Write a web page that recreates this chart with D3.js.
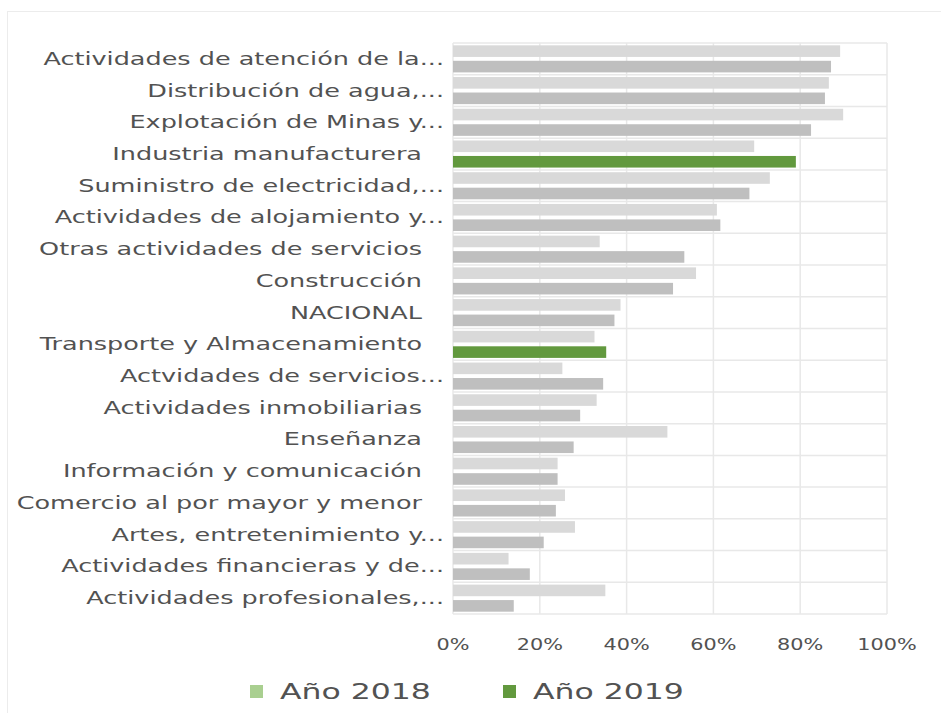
<!DOCTYPE html>
<html>
<head>
<meta charset="utf-8">
<script src="https://cdn.jsdelivr.net/npm/d3@7"></script>
<style>
  body { margin: 0; background: #fff; }
  text { font-family: "DejaVu Sans", Verdana, sans-serif; fill: #525252; }
</style>
</head>
<body>
<svg id="chart"></svg>
<script>
// categories, top to bottom
const categories = [
  "Actividades de atención de la...",
  "Distribución de agua,...",
  "Explotación de Minas y...",
  "Industria manufacturera",
  "Suministro de electricidad,...",
  "Actividades de alojamiento y...",
  "Otras actividades de servicios",
  "Construcción",
  "NACIONAL",
  "Transporte y Almacenamiento",
  "Actvidades de servicios...",
  "Actividades inmobiliarias",
  "Enseñanza",
  "Información y comunicación",
  "Comercio al por mayor y menor",
  "Artes, entretenimiento y...",
  "Actividades financieras y de...",
  "Actividades profesionales,..."
];
const values2018 = [0.892, 0.866, 0.899, 0.694, 0.730, 0.608, 0.338, 0.560, 0.386, 0.326, 0.252, 0.331, 0.494, 0.241, 0.258, 0.281, 0.128, 0.351];
const values2019 = [0.871, 0.857, 0.825, 0.790, 0.683, 0.616, 0.533, 0.507, 0.372, 0.353, 0.346, 0.293, 0.278, 0.241, 0.237, 0.209, 0.177, 0.140];
const highlighted = ["Industria manufacturera", "Transporte y Almacenamiento"];
const seriesNames = ["Año 2018", "Año 2019"];
const xTicks = [0, 0.2, 0.4, 0.6, 0.8, 1];

const width = 941, height = 713;
const margin = { top: 43, right: 54, bottom: 99, left: 453 };

const svg = d3.select("#chart").attr("width", width).attr("height", height);

// outer chart frame
svg.append("rect")
  .attr("x", 7.5).attr("y", 11.5)
  .attr("width", width).attr("height", height)
  .attr("fill", "none").attr("stroke", "#ececec");

const x = d3.scaleLinear().domain([0, 1]).range([margin.left, width - margin.right]);
const y = d3.scaleBand().domain(categories).range([margin.top, height - margin.bottom]).padding(0);
const ySub = d3.scaleBand().domain(seriesNames).range([0, y.bandwidth()]).paddingInner(0.25).paddingOuter(0.15);

const grid = svg.append("g").attr("stroke", "#e8e8e8").attr("stroke-width", 1.5);
grid.selectAll("line.v")
  .data(xTicks)
  .enter().append("line")
    .attr("x1", d => x(d)).attr("x2", d => x(d))
    .attr("y1", y.range()[0]).attr("y2", y.range()[1]);
grid.selectAll("line.h")
  .data(categories.concat([null]))
  .enter().append("line")
    .attr("x1", x(0)).attr("x2", x(1))
    .attr("y1", (d, i) => y.range()[0] + i * y.step())
    .attr("y2", (d, i) => y.range()[0] + i * y.step());

const rows = categories.map((c, i) => ({ cat: c, v: [values2018[i], values2019[i]] }));

const bars = svg.append("g");
bars.selectAll("rect.a")
  .data(rows)
  .enter().append("rect")
    .attr("x", x(0))
    .attr("y", d => y(d.cat) + ySub(seriesNames[0]))
    .attr("width", d => x(d.v[0]) - x(0))
    .attr("height", ySub.bandwidth())
    .attr("fill", "#d9d9d9");
bars.selectAll("rect.b")
  .data(rows)
  .enter().append("rect")
    .attr("x", x(0))
    .attr("y", d => y(d.cat) + ySub(seriesNames[1]))
    .attr("width", d => x(d.v[1]) - x(0))
    .attr("height", ySub.bandwidth())
    .attr("fill", d => highlighted.includes(d.cat) ? "#62993e" : "#bfbfbf");

// category labels (stretched wide like the source); full names carry a trailing gap
svg.append("g")
  .selectAll("text")
  .data(categories)
  .enter().append("text")
    .attr("transform", d => "translate(" + (x(0) - (d.endsWith("...") ? 9 : 31)) + "," + (y(d) + y.bandwidth() / 2) + ")scale(1.5,1)")
    .attr("text-anchor", "end")
    .attr("dy", "0.35em")
    .attr("font-size", 17)
    .text(d => d);

// x tick labels
svg.append("g")
  .selectAll("text")
  .data(xTicks)
  .enter().append("text")
    .attr("transform", d => "translate(" + x(d) + "," + 644 + ")scale(1.3,1)")
    .attr("text-anchor", "middle")
    .attr("dy", "0.35em")
    .attr("font-size", 16)
    .text(d3.format(".0%"));

// legend
const legendColors = ["#a9cf90", "#62993e"];
const legend = svg.append("g")
  .selectAll("g")
  .data(seriesNames)
  .enter().append("g")
    .attr("transform", (d, i) => "translate(" + (250 + i * 253) + ",685)");
legend.append("rect")
  .attr("width", 13).attr("height", 13)
  .attr("fill", (d, i) => legendColors[i]);
legend.append("text")
  .attr("transform", "translate(30,7)scale(1.5,1)")
  .attr("dy", "0.35em")
  .attr("font-size", 21)
  .text(d => d);
</script>
</body>
</html>
